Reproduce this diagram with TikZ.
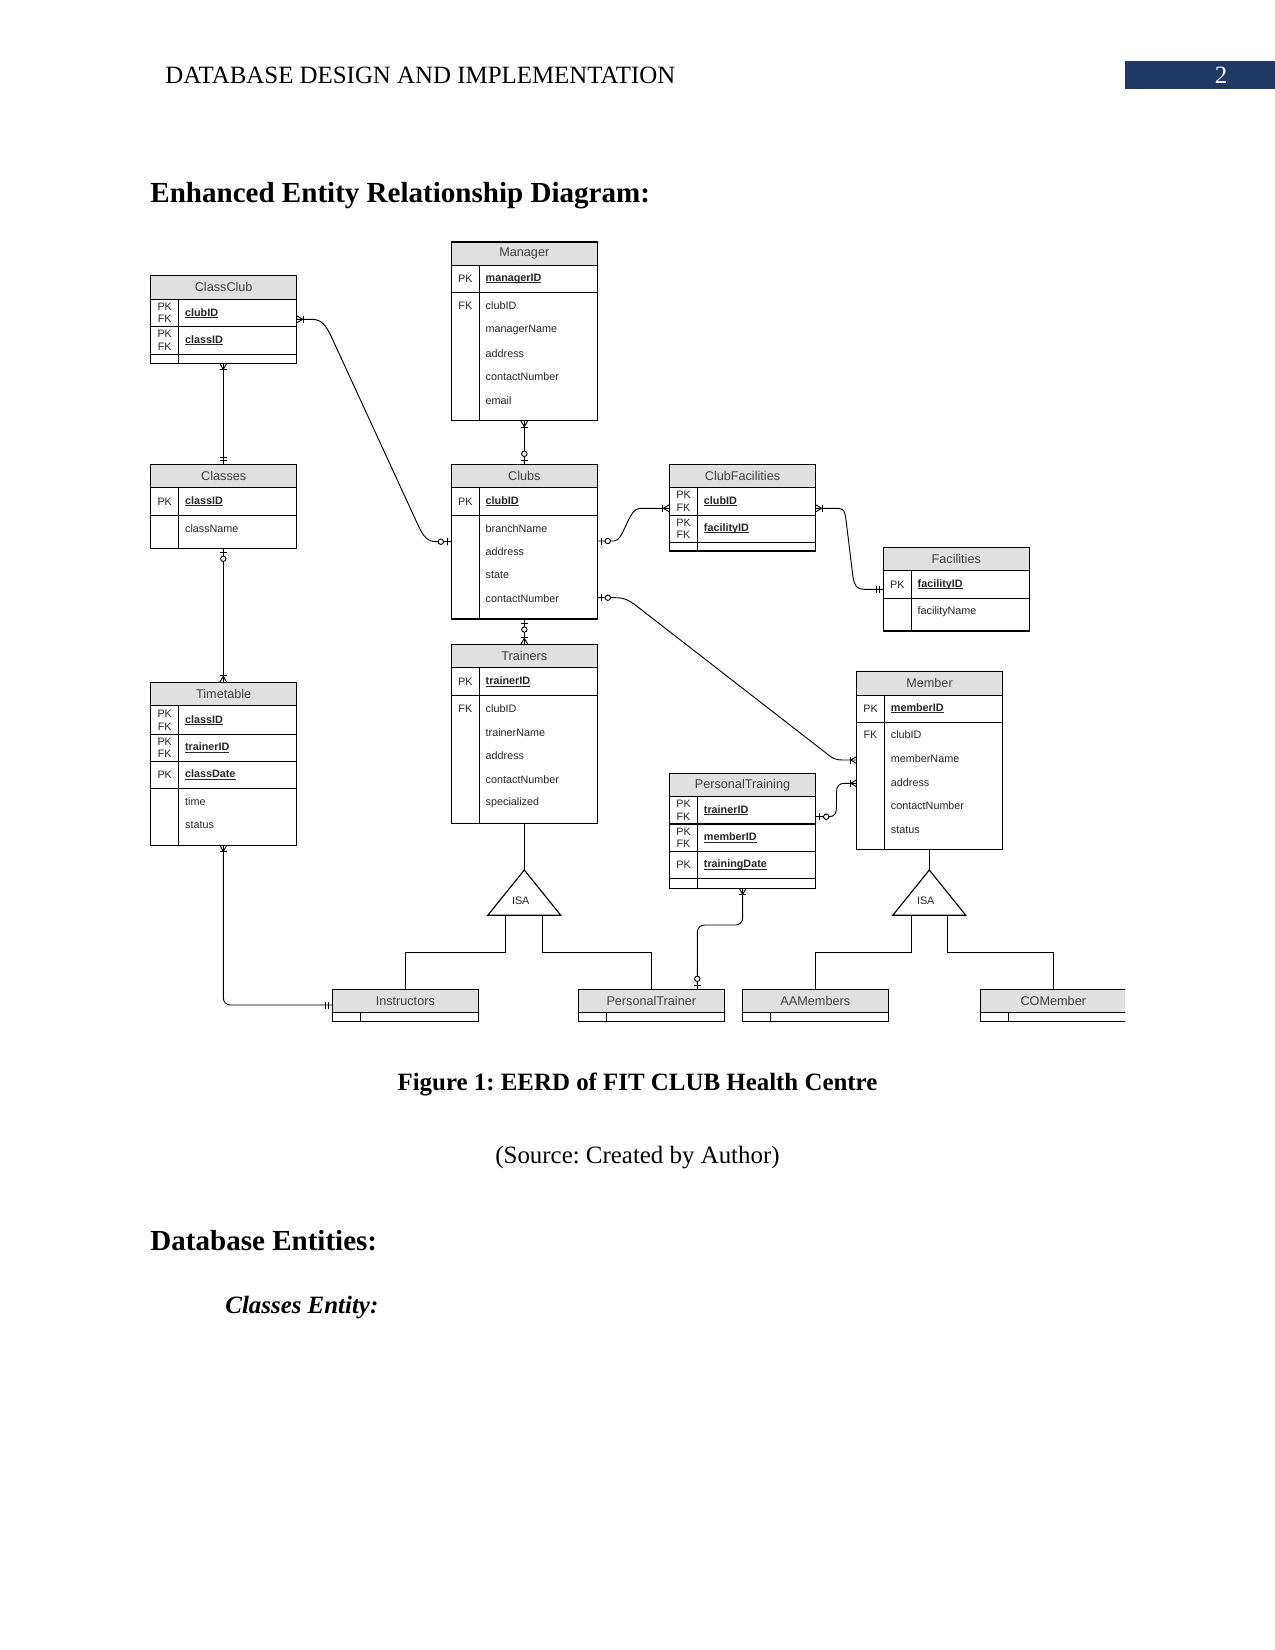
\documentclass[tikz,border=0pt]{standalone}
\usepackage{fontspec}
\setmainfont{Liberation Serif}
\newfontfamily\ersf{Liberation Sans}
\usepackage{xcolor}
\usepackage{tikz}
\frenchspacing

\definecolor{hdgray}{HTML}{E0E0E0}
\definecolor{navybar}{HTML}{1F3864}

% key attribute: bold, with a close underline
\newcommand{\keyattr}[1]{\setbox0\hbox{\bfseries #1}\rlap{\rule[-0.7pt]{\wd0}{0.35pt}}\box0}

% crow's foot marks, drawn at an entity edge, pointing along the line
\newcommand{\mkonemany}{\draw (0,-3.5) -- (6,0) -- (0,3.5); \draw (6.5,-3.5) -- (6.5,3.5);}
\newcommand{\mkzeroone}{\draw (4,-3.5) -- (4,3.5); \draw[fill=white] (10.5,0) circle[radius=1.3pt];}
\newcommand{\mkonlyone}{\draw (4,-3.5) -- (4,3.5); \draw (7,-3.5) -- (7,3.5);}
\newcommand{\ermark}[3]{\begin{scope}[shift={(#1)},rotate=#2,line width=0.45pt]\csname mk#3\endcsname\end{scope}}

\begin{document}
\begin{tikzpicture}[
        x=0.016933cm, y=-0.016933cm,
        ehead/.style={anchor=north, draw, fill=hdgray, line width=0.55pt, minimum width=2.472cm, minimum height=0.396cm, inner sep=0, outer sep=0, text=black!75, font=\ersf\fontsize{6.1}{7}\selectfont},
        ebox/.style={line width=0.55pt},
        attr/.style={anchor=west, inner sep=0, text=black!85, font=\ersf\fontsize{5.2}{6.2}\selectfont},
        keyc/.style={inner sep=0, align=center, text=black!85, font=\ersf\fontsize{5.2}{6}\selectfont},
        conn/.style={line width=0.45pt},
        isa/.style={line width=0.55pt, fill=white}
    ]
    \useasboundingbox[fill=white] (0,0) rectangle (1275,1650);

    % Page header
    \node[anchor=base west, inner sep=0, font=\fontsize{12}{14}\selectfont] (runhead) at (165,83) {DATABASE DESIGN AND IMPLEMENTATION};
    \fill[navybar] (1125,61) rectangle (1275,89);
    \node[anchor=base, inner sep=0, text=white, font=\fontsize{12}{14}\selectfont] (pageno) at (1221,83) {2};
    \node[anchor=base west, inner sep=0, font=\fontsize{14}{17}\selectfont\bfseries] (title) at (150,202) {Enhanced Entity Relationship Diagram:};

    % ClassClub
    \node[ehead] (classclub) at (223.7,275.7) {ClassClub};
    \draw[ebox] (classclub.south west) rectangle ++(146,64.2);
    \draw[ebox] (classclub.south west) ++(0,27.5) -- ++(146,0) ++(-146,27.5) -- ++(146,0);
    \draw[ebox] (classclub.south west) ++(28,0) -- ++(0,64.2);
    \node[keyc] at (164.7,313) {PK\\FK};
    \node[keyc] at (164.7,340.5) {PK\\FK};
    \node[attr] at (184.7,313) {\keyattr{clubID}};
    \node[attr] at (184.7,340.5) {\keyattr{classID}};

    % Manager
    \node[ehead] (manager) at (524.3,242) {Manager};
    \draw[ebox] (manager.south west) rectangle ++(146,155.3);
    \draw[ebox] (manager.south west) ++(0,26.9) -- ++(146,0);
    \draw[ebox] (manager.south west) ++(28,0) -- ++(0,155.3);
    \node[keyc] at (465.3,279) {PK};
    \node[attr] at (485.3,279) {\keyattr{managerID}};
    \node[keyc] at (465.3,306) {FK};
    \foreach \a [count=\i from 0] in {clubID,managerName,address,contactNumber,email}
        \node[attr] at (485.3,{306+23.6*\i}) {\a};

    % Classes
    \node[ehead] (classes) at (223.7,464.3) {Classes};
    \draw[ebox] (classes.south west) rectangle ++(146,60.6);
    \draw[ebox] (classes.south west) ++(0,27.6) -- ++(146,0);
    \draw[ebox] (classes.south west) ++(28,0) -- ++(0,60.6);
    \node[keyc] at (164.7,501.3) {PK};
    \node[attr] at (184.7,501.3) {\keyattr{classID}};
    \node[attr] at (184.7,528.3) {className};

    % Clubs
    \node[ehead] (clubs) at (524.3,464.3) {Clubs};
    \draw[ebox] (clubs.south west) rectangle ++(146,131.3);
    \draw[ebox] (clubs.south west) ++(0,27.6) -- ++(146,0);
    \draw[ebox] (clubs.south west) ++(28,0) -- ++(0,131.3);
    \node[keyc] at (465.3,501.3) {PK};
    \node[attr] at (485.3,501.3) {\keyattr{clubID}};
    \foreach \a [count=\i from 0] in {branchName,address,state,contactNumber}
        \node[attr] at (485.3,{528.3+23.6*\i}) {\a};

    % ClubFacilities
    \node[ehead] (clubfac) at (742.5,464.3) {ClubFacilities};
    \draw[ebox] (clubfac.south west) rectangle ++(146,63.3);
    \draw[ebox] (clubfac.south west) ++(0,27.6) -- ++(146,0) ++(-146,27) -- ++(146,0);
    \draw[ebox] (clubfac.south west) ++(28,0) -- ++(0,63.3);
    \node[keyc] at (683.5,501.5) {PK\\FK};
    \node[keyc] at (683.5,528.8) {PK\\FK};
    \node[attr] at (703.5,501.5) {\keyattr{clubID}};
    \node[attr] at (703.5,528.8) {\keyattr{facilityID}};

    % Facilities
    \node[ehead] (facilities) at (956.3,547.3) {Facilities};
    \draw[ebox] (facilities.south west) rectangle ++(146,60.3);
    \draw[ebox] (facilities.south west) ++(0,27.6) -- ++(146,0);
    \draw[ebox] (facilities.south west) ++(28,0) -- ++(0,60.3);
    \node[keyc] at (897.3,584.5) {PK};
    \node[attr] at (917.3,584.5) {\keyattr{facilityID}};
    \node[attr] at (917.3,611.7) {facilityName};

    % Timetable
    \node[ehead] (timetable) at (223.7,682.3) {Timetable};
    \draw[ebox] (timetable.south west) rectangle ++(146,139.6);
    \draw[ebox] (timetable.south west) ++(0,28.6) -- ++(146,0) ++(-146,27) -- ++(146,0) ++(-146,27) -- ++(146,0);
    \draw[ebox] (timetable.south west) ++(28,0) -- ++(0,139.6);
    \node[keyc] at (164.7,720.3) {PK\\FK};
    \node[keyc] at (164.7,747.8) {PK\\FK};
    \node[keyc] at (164.7,774.8) {PK};
    \node[attr] at (184.7,720.3) {\keyattr{classID}};
    \node[attr] at (184.7,747.8) {\keyattr{trainerID}};
    \node[attr] at (184.7,774.8) {\keyattr{classDate}};
    \node[attr] at (184.7,801.7) {time};
    \node[attr] at (184.7,825) {status};

    % Trainers
    \node[ehead] (trainers) at (524.3,644.3) {Trainers};
    \draw[ebox] (trainers.south west) rectangle ++(146,155.6);
    \draw[ebox] (trainers.south west) ++(0,27.6) -- ++(146,0);
    \draw[ebox] (trainers.south west) ++(28,0) -- ++(0,155.6);
    \node[keyc] at (465.3,681.8) {PK};
    \node[attr] at (485.3,681.8) {\keyattr{trainerID}};
    \node[keyc] at (465.3,709) {FK};
    \foreach \a [count=\i from 0] in {clubID,trainerName,address,contactNumber,specialized}
        \node[attr] at (485.3,{709+23.5*\i}) {\a};

    % Member
    \node[ehead] (member) at (929.5,671.7) {Member};
    \draw[ebox] (member.south west) rectangle ++(146,154.2);
    \draw[ebox] (member.south west) ++(0,27.2) -- ++(146,0);
    \draw[ebox] (member.south west) ++(28,0) -- ++(0,154.2);
    \node[keyc] at (870.5,708.3) {PK};
    \node[attr] at (890.5,708.3) {\keyattr{memberID}};
    \node[keyc] at (870.5,735) {FK};
    \foreach \a [count=\i from 0] in {clubID,memberName,address,contactNumber,status}
        \node[attr] at (890.5,{735+23.7*\i}) {\a};

    % PersonalTraining
    \node[ehead] (ptraining) at (742.5,773.3) {PersonalTraining};
    \draw[ebox] (ptraining.south west) rectangle ++(146,91.6);
    \draw[ebox] (ptraining.south west) ++(0,27.3) -- ++(146,0) ++(-146,27.3) -- ++(146,0) ++(-146,27.4) -- ++(146,0);
    \draw[ebox] (ptraining.south west) ++(28,0) -- ++(0,91.6);
    \node[keyc] at (683.5,810.3) {PK\\FK};
    \node[keyc] at (683.5,837.7) {PK\\FK};
    \node[keyc] at (683.5,865) {PK};
    \node[attr] at (703.5,810.3) {\keyattr{trainerID}};
    \node[attr] at (703.5,837.7) {\keyattr{memberID}};
    \node[attr] at (703.5,865) {\keyattr{trainingDate}};

    % Subtypes
    \foreach \n/\t/\cx in {instr/Instructors/405.3, ptrainer/PersonalTrainer/651.3, aamem/AAMembers/815.3} {
        \node[ehead] (\n) at (\cx,989.3) {\t};
        \draw[ebox] (\n.south west) rectangle ++(146,8.6);
        \draw[ebox] (\n.south west) ++(28,0) -- ++(0,8.6);
    }
    \begin{scope}
        \clip (975,980) rectangle (1125,1030);
        \node[ehead] (comem) at (1053.3,989.3) {COMember};
        \draw[ebox] (comem.south west) rectangle ++(146,8.6);
        \draw[ebox] (comem.south west) ++(28,0) -- ++(0,8.6);
    \end{scope}

    % ISA triangles
    \coordinate (isa1) at (524.3,870);
    \coordinate (isa2) at (929.3,870);
    \draw[isa] (isa1) -- ++(36.5,45.3) -- ++(-73,0) -- cycle;
    \draw[isa] (isa2) -- ++(36.5,45.3) -- ++(-73,0) -- cycle;
    \node[keyc] (isa1t) at (520.7,901) {ISA};
    \node[keyc] (isa2t) at (925.7,901) {ISA};
    \coordinate (isa1l) at (505.3,915.3);
    \coordinate (isa1r) at (542.3,915.3);
    \coordinate (isa2l) at (911.7,915.3);
    \coordinate (isa2r) at (947.7,915.3);
    \draw[conn] (isa1l) -- ++(0,37) -| (instr.north);
    \draw[conn] (isa1r) -- ++(0,37) -| (ptrainer.north);
    \draw[conn] (isa2l) -- ++(0,37) -| (aamem.north);
    \draw[conn] (isa2r) -- ++(0,37) -| (comem.north);

    % Connector end points
    \coordinate (ccS) at (223.3,363.3);
    \coordinate (ccR) at (296.7,319.3);
    \coordinate (mgrS) at (524.3,420.7);
    \coordinate (clsN) at (223.3,464.3);
    \coordinate (clsS) at (223.3,548.3);
    \coordinate (clubsN) at (524.3,464.3);
    \coordinate (clubsL) at (451.3,541.7);
    \coordinate (clubsR1) at (597.3,541);
    \coordinate (clubsR2) at (597.3,597.7);
    \coordinate (clubsS) at (524.3,619);
    \coordinate (cfL) at (669.3,508.3);
    \coordinate (cfR) at (815.7,508.3);
    \coordinate (facL) at (883.3,589.3);
    \coordinate (ttN) at (223.3,682.3);
    \coordinate (ttS) at (223.3,845.3);
    \coordinate (trN) at (524.3,644.3);
    \coordinate (trS) at (524.3,823.3);
    \coordinate (memL1) at (856.7,760);
    \coordinate (memL2) at (856.7,783.3);
    \coordinate (memS) at (929.3,849.3);
    \coordinate (ptR) at (815.7,816.7);
    \coordinate (ptS) at (742.7,888.3);
    \coordinate (ptrN) at (697.3,989.3);
    \coordinate (insW) at (332.3,1005);

    % Relationships
    \draw[conn] (ccS) -- (clsN);
    \draw[conn] (ccR) -- (312,319.3) .. controls (322,319.3) and (326,326) .. (331,336) -- (418,525) .. controls (424,538) and (428,541.7) .. (437,541.7) -- (clubsL);
    \draw[conn] (mgrS) -- (clubsN);
    \draw[conn] (clubsR1) -- (614,541) .. controls (624,541) and (628,508.3) .. (640,508.3) -- (cfL);
    \draw[conn] (cfR) -- (838,508.3) .. controls (844,508.3) and (845,512) .. (846,520) -- (853,577) .. controls (854.5,586) and (857,589.3) .. (864,589.3) -- (facL);
    \draw[conn] (clubsR2) -- (616,597.7) .. controls (624,597.7) and (628,600) .. (634,604) -- (826,753) .. controls (832,758) and (835,760) .. (842,760) -- (memL1);
    \draw[conn] (clsS) -- (ttN);
    \draw[conn] (clubsS) -- (trN);
    \draw[conn] (trS) -- (isa1);
    \draw[conn] (memS) -- (isa2);
    \draw[conn] (ptR) -- (829,816.7) .. controls (835,816.7) and (836.5,813) .. (836.5,806) -- (836.5,792) .. controls (836.5,786) and (839,783.3) .. (845,783.3) -- (memL2);
    \draw[conn, rounded corners=0.12cm] (ptS) -- ++(0,36.7) -| (ptrN);
    \draw[conn, rounded corners=0.12cm] (ttS) |- (insW);

    % Cardinality marks
    \ermark{ccS}{-90}{onemany}
    \ermark{clsN}{90}{onlyone}
    \ermark{ccR}{0}{onemany}
    \ermark{clubsL}{180}{zeroone}
    \ermark{mgrS}{-90}{onemany}
    \ermark{clubsN}{90}{zeroone}
    \ermark{clubsR1}{0}{zeroone}
    \ermark{cfL}{180}{onemany}
    \ermark{cfR}{0}{onemany}
    \ermark{facL}{180}{onlyone}
    \ermark{clubsR2}{0}{zeroone}
    \ermark{memL1}{180}{onemany}
    \ermark{clsS}{-90}{zeroone}
    \ermark{ttN}{90}{onemany}
    \ermark{clubsS}{-90}{zeroone}
    \ermark{trN}{90}{onemany}
    \ermark{ptR}{0}{zeroone}
    \ermark{memL2}{180}{onemany}
    \ermark{ptS}{-90}{onemany}
    \ermark{ptrN}{90}{zeroone}
    \ermark{ttS}{-90}{onemany}
    \ermark{insW}{180}{onlyone}

    % Caption and following text
    \node[anchor=base, inner sep=0, font=\fontsize{12}{14}\selectfont\bfseries] (caption) at (637.5,1090) {Figure 1: EERD of FIT CLUB Health Centre};
    \node[anchor=base, inner sep=0, font=\fontsize{12}{14}\selectfont] (source) at (637.5,1163.5) {(Source: Created by Author)};
    \node[anchor=base west, inner sep=0, font=\fontsize{14}{17}\selectfont\bfseries] (entities) at (150,1250) {Database Entities:};
    \node[anchor=base west, inner sep=0, font=\fontsize{12}{14}\selectfont\bfseries\itshape] (classent) at (225,1313) {Classes Entity:};
\end{tikzpicture}
\end{document}
